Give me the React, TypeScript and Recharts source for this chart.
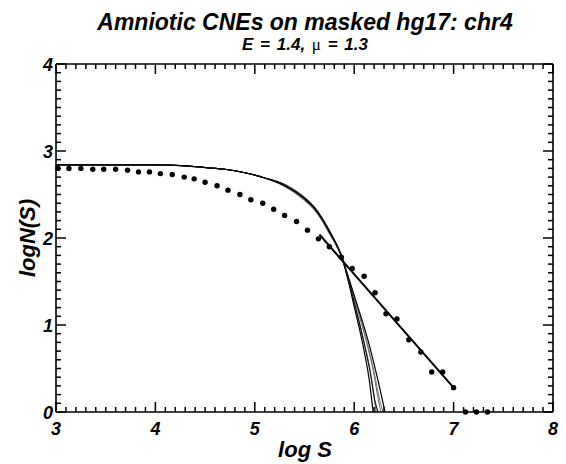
import { ComposedChart, Line, XAxis, YAxis } from 'recharts'

// axis ticks (major ones get a label)
const X_MAJOR = [3, 4, 5, 6, 7, 8]
const Y_MAJOR = [0, 1, 2, 3, 4]

// binned observed counts: log S vs log N(S)
const OBS_LOG_S = [3.02, 3.13, 3.25, 3.37, 3.48, 3.6, 3.72, 3.83, 3.94, 4.05, 4.17, 4.29, 4.39, 4.5, 4.62, 4.73, 4.85, 4.96, 5.08, 5.19, 5.3, 5.42, 5.53, 5.64, 5.75, 5.87, 5.98, 6.1, 6.21, 6.32, 6.43, 6.55, 6.67, 6.78, 6.89, 7.0, 7.12, 7.23, 7.34]
const OBS_LOG_N = [2.8, 2.8, 2.8, 2.79, 2.79, 2.79, 2.78, 2.76, 2.76, 2.74, 2.73, 2.7, 2.68, 2.64, 2.6, 2.55, 2.5, 2.44, 2.4, 2.33, 2.26, 2.19, 2.09, 1.99, 1.9, 1.78, 1.65, 1.56, 1.37, 1.13, 1.07, 0.83, 0.69, 0.46, 0.46, 0.28, 0, 0, 0]

// power-law fit, slope -mu
const FIT_LOG_S = [5.65, 7.0]
const FIT_LOG_N = [2.04, 0.28]

// simulated runs (flat part shared, knee and tail differ)
const SIM_FLAT: number[][] = [[3.0, 2.84], [3.5, 2.84], [4.0, 2.84], [4.3, 2.83], [4.5, 2.81], [4.7, 2.79], [4.9, 2.75], [5.1, 2.69]]
const SIM_A = [[5.3, 2.6], [5.5, 2.45], [5.6, 2.34], [5.68, 2.21], [5.76, 2.05], [5.82, 1.93], [5.874, 1.78], [5.95, 1.46], [6.0, 1.21], [6.05, 0.97], [6.1, 0.7], [6.15, 0.38], [6.19, 0]]
const SIM_B = [[5.3, 2.61], [5.5, 2.46], [5.6, 2.35], [5.68, 2.22], [5.76, 2.06], [5.82, 1.93], [5.874, 1.79], [5.95, 1.52], [6.05, 1.16], [6.13, 0.86], [6.2, 0.55], [6.26, 0.26], [6.31, 0]]
const SIM_C = [[5.3, 2.59], [5.5, 2.43], [5.6, 2.32], [5.68, 2.19], [5.76, 2.03], [5.82, 1.91], [5.874, 1.77], [5.95, 1.48], [6.03, 1.13], [6.1, 0.8], [6.17, 0.42], [6.22, 0]]
const SIM_D = [[5.3, 2.62], [5.5, 2.47], [5.6, 2.36], [5.68, 2.23], [5.76, 2.07], [5.82, 1.94], [5.874, 1.8], [5.95, 1.5], [6.04, 1.15], [6.12, 0.82], [6.19, 0.48], [6.25, 0.1], [6.27, 0]]
const SIM_E = [[5.3, 2.6], [5.5, 2.44], [5.6, 2.33], [5.68, 2.2], [5.76, 2.04], [5.82, 1.92], [5.874, 1.78], [5.95, 1.51], [6.05, 1.14], [6.13, 0.8], [6.2, 0.46], [6.26, 0.12], [6.29, 0]]
const SIM_F = [[5.3, 2.61], [5.5, 2.45], [5.6, 2.34], [5.68, 2.21], [5.76, 2.05], [5.82, 1.92], [5.874, 1.79], [5.95, 1.49], [6.02, 1.17], [6.09, 0.84], [6.16, 0.46], [6.21, 0.12], [6.24, 0]]

const SIMS = [
    { id: 'c', pts: SIM_C, color: '#666', w: 1 },
    { id: 'd', pts: SIM_D, color: '#666', w: 1 },
    { id: 'e', pts: SIM_E, color: '#777', w: 1 },
    { id: 'a', pts: SIM_A, color: '#000', w: 1.2 },
    { id: 'b', pts: SIM_B, color: '#000', w: 1.2 },
    { id: 'f', pts: SIM_F, color: '#111', w: 1.1 },
]

const FONT = '"Liberation Sans", Arial, Helvetica, sans-serif'

const W = 566
const H = 464
const TOP_H = 64
const BOTTOM_H = 52
const LEFT_W = 56
const RIGHT_W = 13

const tenths = (lo: number, hi: number) => {
    const out: number[] = []
    for (let i = Math.round(lo * 10); i <= Math.round(hi * 10); i++) out.push(i / 10)
    return out
}
const X_TICKS = tenths(X_MAJOR[0], X_MAJOR[X_MAJOR.length - 1])
const Y_TICKS = tenths(Y_MAJOR[0], Y_MAJOR[Y_MAJOR.length - 1])
const isMajor = (v: number) => Math.abs(v - Math.round(v)) < 1e-6

const labelStyle = { fontFamily: FONT, fontWeight: 700, fontStyle: 'italic' as const, fontSize: 18, fill: '#000' }
const MARK = { stroke: '#000', strokeWidth: 1.5 }

// bottom axis of the main chart: labels only
function BottomLabel({ x, y, payload }: any) {
    if (!isMajor(payload.value)) return <g />
    return <text x={x} y={y + 23} textAnchor="middle" {...labelStyle}>{Math.round(payload.value)}</text>
}
// bottom marks come from the overlay chart
function BottomMark({ x, y, payload }: any) {
    return <line x1={x} x2={x} y1={y} y2={y - (isMajor(payload.value) ? 10 : 5)} {...MARK} />
}
function TopTick({ x, y, payload }: any) {
    return <line x1={x} x2={x} y1={y} y2={y + (isMajor(payload.value) ? 10 : 5)} {...MARK} />
}
function LeftTick({ x, y, payload }: any) {
    const major = isMajor(payload.value)
    return (
        <g>
            <line x1={x} x2={x + (major ? 10 : 5)} y1={y} y2={y} {...MARK} />
            {major && <text x={x - 3} y={y + 7} textAnchor="end" {...labelStyle}>{Math.round(payload.value)}</text>}
        </g>
    )
}
function RightTick({ x, y, payload }: any) {
    return <line x1={x} x2={x - (isMajor(payload.value) ? 10 : 5)} y1={y} y2={y} {...MARK} />
}

const Dot = ({ cx, cy }: any) => <circle key={`${cx}-${cy}`} cx={cx} cy={cy} r={2.7} fill="#000" />

const textBase = { position: 'absolute' as const, fontFamily: FONT, fontWeight: 700, fontStyle: 'italic', lineHeight: 1, textAlign: 'center' as const, whiteSpace: 'nowrap' as const }

export default function App() {
    const obs = OBS_LOG_S.map((s, i) => ({ x: s, y: OBS_LOG_N[i] }))
    const fit = FIT_LOG_S.map((s, i) => ({ x: s, y: FIT_LOG_N[i] }))
    const sims = SIMS.map((s) => ({ ...s, data: [...SIM_FLAT, ...s.pts].map(([x, y]) => ({ x, y })) }))
    const axisLine = { stroke: '#000', strokeWidth: 1.6 }
    const common = { type: 'number' as const, interval: 0 as const, tickSize: 0, tickMargin: 0, tickLine: false, axisLine }

    return (
        <div style={{ position: 'absolute', left: 0, top: 0, width: W, height: H, background: '#fff' }}>
            <ComposedChart width={W} height={H} margin={{ top: 0, right: 0, bottom: 0, left: 0 }}>
                <XAxis dataKey="x" domain={[3, 8]} ticks={X_TICKS} height={BOTTOM_H} tick={<BottomLabel />} {...common} />
                <XAxis xAxisId="top" dataKey="x" orientation="top" domain={[3, 8]} ticks={X_TICKS} height={TOP_H} tick={<TopTick />} {...common} />
                <YAxis dataKey="y" domain={[0, 4]} ticks={Y_TICKS} width={LEFT_W} tick={<LeftTick />} {...common} />
                <YAxis yAxisId="right" dataKey="y" orientation="right" domain={[0, 4]} ticks={Y_TICKS} width={RIGHT_W} tick={<RightTick />} {...common} />

                {sims.map((s) => (
                    <Line key={s.id} data={s.data} dataKey="y" type="monotone" stroke={s.color} strokeWidth={s.w}
                        dot={false} activeDot={false} isAnimationActive={false} />
                ))}
                <Line data={fit} dataKey="y" type="linear" stroke="#000" strokeWidth={2}
                    dot={false} activeDot={false} isAnimationActive={false} />
                <Line data={obs} dataKey="y" stroke="none" dot={<Dot />} activeDot={false} isAnimationActive={false} />
                {/* hidden copy on the frame axes so top/right get their ticks */}
                <Line xAxisId="top" yAxisId="right" data={fit} dataKey="y" stroke="none" dot={false} activeDot={false} isAnimationActive={false} />
            </ComposedChart>

            {/* transparent overlay chart, same plot box, only for the bottom tick marks */}
            <div style={{ position: 'absolute', left: 0, top: 0, pointerEvents: 'none' }}>
                <ComposedChart width={W} height={H} margin={{ top: TOP_H, right: RIGHT_W, bottom: 0, left: LEFT_W }}>
                    <XAxis dataKey="x" domain={[3, 8]} ticks={X_TICKS} height={BOTTOM_H} tick={<BottomMark />}
                        type="number" interval={0} tickSize={0} tickMargin={0} tickLine={false} axisLine={false} />
                    <YAxis dataKey="y" domain={[0, 4]} type="number" hide />
                    <Line data={fit} dataKey="y" stroke="none" dot={false} activeDot={false} isAnimationActive={false} />
                </ComposedChart>
            </div>

            <div style={{ ...textBase, left: 0, width: 610, top: 11, fontSize: 23 }}>Amniotic CNEs on masked hg17: chr4</div>
            <div style={{ ...textBase, left: 0, width: 610, top: 36, fontSize: 17, wordSpacing: 2 }}>
                E = 1.4, <span style={{ fontFamily: '"Liberation Serif", serif', fontStyle: 'normal', fontWeight: 400 }}>μ</span> = 1.3
            </div>
            <div style={{ ...textBase, left: 0, width: 610, top: 439, fontSize: 22 }}>log S</div>
            <div style={{ ...textBase, left: -72, width: 200, top: 227, fontSize: 22, transform: 'rotate(-90deg)' }}>logN(S)</div>
        </div>
    )
}
